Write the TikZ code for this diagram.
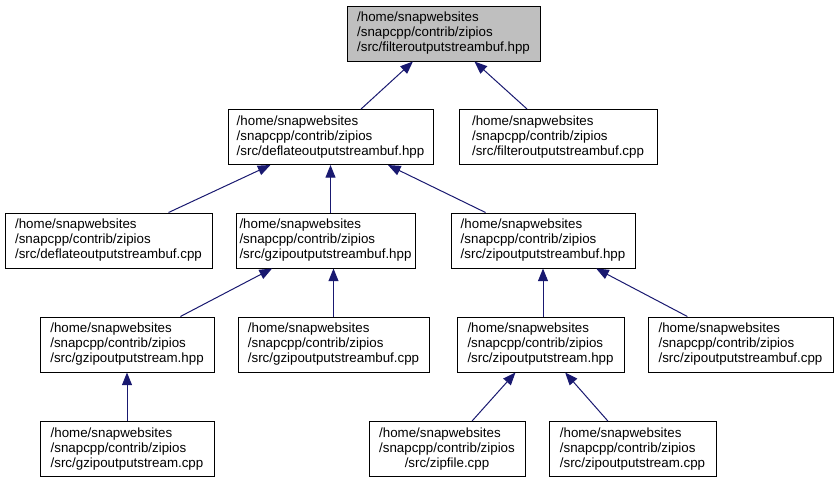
\documentclass[tikz,border=0pt]{standalone}
\usepackage{fontspec}
\setmainfont{Liberation Sans}
\usetikzlibrary{arrows.meta}
\definecolor{edgeblue}{HTML}{191970}
\definecolor{topgrey}{HTML}{BFBFBF}
\newcommand\dlabel[3]{\begin{tabular}{@{}l@{}}#1\\#2\\\multicolumn{1}{@{}c@{}}{#3}\end{tabular}}
\begin{document}
\begin{tikzpicture}[x=0.75pt,y=-0.75pt,
  box/.style={draw=black, line width=0.75pt, minimum height=41.25pt, inner sep=0pt,
    font=\fontsize{10}{11.25}\selectfont, fill=white},
  bw/.style={minimum width=#1*0.75pt},
  edge/.style={draw=edgeblue, line width=0.75pt, -{Triangle[length=9.5pt,width=7.5pt]}}]
\useasboundingbox (0,0) rectangle (838,483);
\node[box,bw=193,fill=topgrey] (top) at (443.5,33.5) {\dlabel{/home/snapwebsites}{/snapcpp/contrib/zipios}{/src/filteroutputstreambuf.hpp}};
\node[box,bw=205] (deflhpp) at (330.5,137) {\dlabel{/home/snapwebsites}{/snapcpp/contrib/zipios}{/src/deflateoutputstreambuf.hpp}};
\node[box,bw=198] (filtcpp) at (558,137) {\dlabel{/home/snapwebsites}{/snapcpp/contrib/zipios}{/src/filteroutputstreambuf.cpp}};
\node[box,bw=207] (deflcpp) at (108.5,240.5) {\dlabel{/home/snapwebsites}{/snapcpp/contrib/zipios}{/src/deflateoutputstreambuf.cpp}};
\node[box,bw=179] (gzbufhpp) at (325.5,240.5) {\dlabel{/home/snapwebsites}{/snapcpp/contrib/zipios}{/src/gzipoutputstreambuf.hpp}};
\node[box,bw=184] (zipbufhpp) at (543,240.5) {\dlabel{/home/snapwebsites}{/snapcpp/contrib/zipios}{/src/zipoutputstreambuf.hpp}};
\node[box,bw=174] (gzhpp) at (127,344.5) {\dlabel{/home/snapwebsites}{/snapcpp/contrib/zipios}{/src/gzipoutputstream.hpp}};
\node[box,bw=191] (gzbufcpp) at (333.5,344.5) {\dlabel{/home/snapwebsites}{/snapcpp/contrib/zipios}{/src/gzipoutputstreambuf.cpp}};
\node[box,bw=167] (zoshpp) at (540.5,344.5) {\dlabel{/home/snapwebsites}{/snapcpp/contrib/zipios}{/src/zipoutputstream.hpp}};
\node[box,bw=185] (zbufcpp) at (740.5,344.5) {\dlabel{/home/snapwebsites}{/snapcpp/contrib/zipios}{/src/zipoutputstreambuf.cpp}};
\node[box,bw=174] (gzcpp) at (127,449) {\dlabel{/home/snapwebsites}{/snapcpp/contrib/zipios}{/src/gzipoutputstream.cpp}};
\node[box,bw=156] (zipfile) at (447,449) {\dlabel{/home/snapwebsites}{/snapcpp/contrib/zipios}{/src/zipfile.cpp}};
\node[box,bw=167] (zoscpp) at (632.5,449) {\dlabel{/home/snapwebsites}{/snapcpp/contrib/zipios}{/src/zipoutputstream.cpp}};
\draw[edge] (deflhpp) -- (top);
\draw[edge] (filtcpp) -- (top);
\draw[edge] (deflcpp) -- (deflhpp);
\draw[edge] (deflhpp.south |- gzbufhpp.north) -- (deflhpp.south);
\draw[edge] (zipbufhpp) -- (deflhpp);
\draw[edge] (gzhpp) -- (gzbufhpp);
\draw[edge] (gzbufcpp.north) -- (gzbufcpp.north |- gzbufhpp.south);
\draw[edge] (zoshpp.north -| zipbufhpp.south) -- (zipbufhpp.south);
\draw[edge] (zbufcpp) -- (zipbufhpp);
\draw[edge] (gzcpp) -- (gzhpp);
\draw[edge] (zipfile) -- (zoshpp);
\draw[edge] (zoscpp) -- (zoshpp);
\end{tikzpicture}
\end{document}
